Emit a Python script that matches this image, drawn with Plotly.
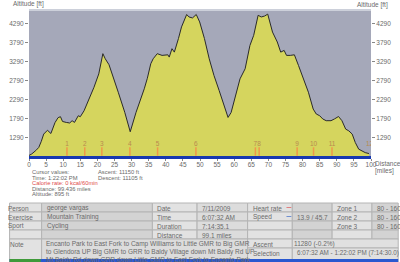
import plotly.graph_objects as go

# ---------------- data ----------------
distance_mi = [0, 0.8, 2.0, 2.85, 3.6, 4.3, 5.4, 6.4, 7.6, 8.5, 9.2, 9.8, 10.9, 11.9, 12.6, 13.3,
               14.4, 15.0, 16.1, 17.6, 19.0, 20.4, 21.6, 22.3, 22.8, 23.4, 26.1, 28.0, 29.6,
               31.3, 33.7, 34.6, 35.6, 36.3, 37.5, 38.9, 40.6, 41.0, 41.8, 42.5, 43.7, 44.6,
               46.1, 46.8, 47.8, 48.9, 49.9, 51.3, 52.7, 54.1, 55.6, 57.0, 58.2, 59.1, 60.3,
               61.7, 63.2, 64.6, 65.7, 67.0, 67.9, 68.9, 69.8, 71.2, 72.6, 73.6, 74.6, 75.3,
               76.4, 77.6, 78.8, 80.3, 81.7, 83.1, 84.0, 85.0, 85.9, 86.9, 88.3, 89.3, 90.5,
               91.5, 92.6, 93.5, 94.5, 95.4, 96.4, 98.3, 99.4]
altitude_ft = [830, 870, 960, 1040, 1200, 1390, 1490, 1405, 1690, 1820, 1845, 1720, 1695, 1680, 1740, 1695,
               1870, 1845, 2000, 2310, 2615, 2965, 3495, 3360, 3275, 3205, 2485, 1960, 1450,
               1960, 2575, 2850, 3230, 3360, 3495, 3450, 3465, 3405, 3625, 3535, 3890, 4195,
               4520, 4455, 4430, 4520, 4325, 3890, 3360, 2920, 2530, 2135, 1825, 1955, 2395,
               2835, 3100, 3710, 3975, 4500, 4455, 4480, 4530, 4060, 3800, 3535, 3580, 3450,
               3450, 3465, 3185, 2835, 2485, 2045, 1915, 1870, 1785, 1740, 1740, 1785, 1850,
               1740, 1520, 1475, 1390, 1170, 995, 905, 880]
lap_dist = [11.1, 16.3, 21.3, 29.5, 37.6, 48.8, 66.2, 67.3, 78.4, 83.2, 88.6, 99.6]
lap_labels = ["1", "2", "3", "4", "5", "6", "7", "8", "9", "10", "11", "12"]
y_ticks = [1290, 1790, 2290, 2790, 3290, 3790, 4290]
x_ticks = list(range(0, 101, 5))

cursor_lines = ["Cursor values:", "Time: 1:22:02 PM", "Calorie rate: 0 kcal/60min",
                "Distance: 99.436 miles", "Altitude: 895 ft"]
summary_lines = ["Ascent: 11150 ft", "Descent: 11105 ft"]
table_rows = [
    ["Person", "george vargas", "Date", "7/11/2009", "Heart rate", "", "Zone 1", "80 - 160"],
    ["Exercise", "Mountain Training", "Time", "6:07:32 AM", "Speed", "13.9 / 45.7", "Zone 2", "80 - 160"],
    ["Sport", "Cycling", "Duration", "7:14:35.1", "", "", "Zone 3", "80 - 160"],
    ["", "", "Distance", "99.1 miles", "", "", "", ""],
]
note_lines = ["Encanto Park to East Fork to Camp Williams to Little GMR to Big GMR",
              "to Glendora UP Big GMR to GRR to Baldy Village down Mt Baldy Rd UP",
              "Mt Baldy Rd down GRR down Little GMR to East Fork to Encanto Park"]
ascent_row = ["Ascent", "11280 (-0.2%)"]
selection_row = ["Selection", "6:07:32 AM - 1:22:02 PM (7:14:30.0)"]

# ---------------- layout helpers ----------------
L, R, T, B = 20, 372, 9, 156
W, H = 400, 262
def px(x):
    return (x - L) / (R - L)
def py(y):
    return (B - y) / (B - T)

FONT = "Liberation Sans"
GRAY = "#6a6a6a"
YR = [816, 4664]

fig = go.Figure()
fig.add_trace(go.Scatter(x=distance_mi, y=altitude_ft, mode="lines", fill="tozeroy",
                         fillcolor="#d5d55e", line=dict(color="#2a2a2a", width=1),
                         showlegend=False, hoverinfo="skip"))
# lap markers
lap_mark_y = [934] * len(lap_dist)
lap_text_y = [1130] * len(lap_dist)
fig.add_trace(go.Scatter(x=lap_dist[:-1], y=lap_mark_y[:-1], mode="markers",
                         marker=dict(symbol="line-ns", size=6,
                                     line=dict(color="#f09848", width=1.5)),
                         showlegend=False, hoverinfo="skip"))
fig.add_trace(go.Scatter(x=lap_dist, y=lap_text_y, mode="text", text=lap_labels,
                         textfont=dict(family=FONT, size=6.5, color="#b88a50"),
                         showlegend=False, hoverinfo="skip"))
fig.add_trace(go.Scatter(x=[None], y=[None], yaxis="y2", showlegend=False, hoverinfo="skip"))

tickfont = dict(family=FONT, size=6.5, color=GRAY)
fig.update_layout(
    width=W, height=H, margin=dict(l=L, r=W - R, t=T, b=H - B),
    paper_bgcolor="white", plot_bgcolor="#a5a8b9",
    xaxis=dict(range=[0, 100], tickvals=x_ticks, ticks="outside", ticklen=2,
               tickcolor="#888888", tickfont=tickfont, showgrid=False, zeroline=False,
               showline=True, linecolor="#1638b0", linewidth=3, fixedrange=True,
               ticklabelstandoff=-2),
    yaxis=dict(range=YR, tickvals=y_ticks, ticks="outside", ticklen=3, tickcolor="#888888",
               tickfont=tickfont, showgrid=False, zeroline=False, fixedrange=True),
    yaxis2=dict(range=YR, tickvals=y_ticks, ticks="outside", ticklen=3, tickcolor="#888888",
                tickfont=tickfont, showgrid=False, zeroline=False, overlaying="y",
                side="right", fixedrange=True),
)

shapes = []
annots = []
def text(x, y, s, size=6.5, color=GRAY, anchor="left"):
    annots.append(dict(x=px(x), y=py(y), xref="paper", yref="paper", text=s,
                       showarrow=False, xanchor=anchor, yanchor="middle",
                       font=dict(family=FONT, size=size, color=color)))
def rect(x0, y0, x1, y1, fill, line="#b4b4b4"):
    shapes.append(dict(type="rect", xref="paper", yref="paper", x0=px(x0), x1=px(x1),
                       y0=py(y1), y1=py(y0), fillcolor=fill,
                       line=dict(color=line, width=1 if line else 0), layer="above"))

# light band at top of plot
rect(L, T, R, T + 2, "#ccd0da", line=None)

# axis titles
text(1, 4, "Altitude [ft]")
text(392, 5, "Altitude [ft]", anchor="right")
text(374, 163, "Distance")
text(374, 171, "[miles]")

# cursor values
cy = [172, 177.5, 183, 188.5, 194]
for i, s in enumerate(cursor_lines):
    text(21, cy[i], s, size=5.8, color="#e04a4a" if i == 2 else GRAY)
text(89, 172, summary_lines[0], size=5.8)
text(89, 178, summary_lines[1], size=5.8)

# table
C = [0, 33, 147, 193, 245, 291, 332, 373, 400]
RW = [203, 212, 221, 230, 239]
fills = ["#e2e2e2", "#d3d3d3", "#e2e2e2", "#dcdcdc", "#e2e2e2", "#d3d3d3", "#e2e2e2", "#d3d3d3"]
for r, row in enumerate(table_rows):
    y0, y1 = RW[r], RW[r] + 9
    for c in range(8):
        rect(C[c], y0, C[c + 1], y1, fills[c])
        if row[c]:
            xs = C[c] + 3 if c > 0 else -4
            text(xs, (y0 + y1) / 2 + 0.5, row[c])
# heart rate / speed dashes
shapes.append(dict(type="line", xref="paper", yref="paper", x0=px(285), x1=px(290),
                   y0=py(207.5), y1=py(207.5), line=dict(color="#e08080", width=1), layer="above"))
shapes.append(dict(type="line", xref="paper", yref="paper", x0=px(285), x1=px(290),
                   y0=py(216.5), y1=py(216.5), line=dict(color="#7090d0", width=1), layer="above"))
# note row
rect(C[0], 239, C[1], 262, fills[0])
text(-2, 244, "Note")
rect(C[1], 239, C[4], 262, "#dcdcdc")
for i, s in enumerate(note_lines):
    text(35, 244 + i * 8, s)
rect(C[4], 239, C[5], 248, fills[4])
rect(C[5], 239, C[8], 248, "#e0e0e0")
text(C[4] + 3, 244, ascent_row[0])
text(C[5], 244, ascent_row[1])
rect(C[4], 248, C[5], 262, fills[4])
rect(C[5], 248, C[8], 262, "#e0e0e0")
text(C[4] + 3, 253, selection_row[0])
text(C[5] + 3, 253, selection_row[1], size=6.3)
# taskbar strip
rect(0, 259, 400, 263, "#2a58d0", line=None)
rect(0, 259, 32, 263, "#3f9a3a", line=None)

fig.update_layout(shapes=shapes, annotations=annots)
fig.write_html("out.html", config={"displayModeBar": False})
